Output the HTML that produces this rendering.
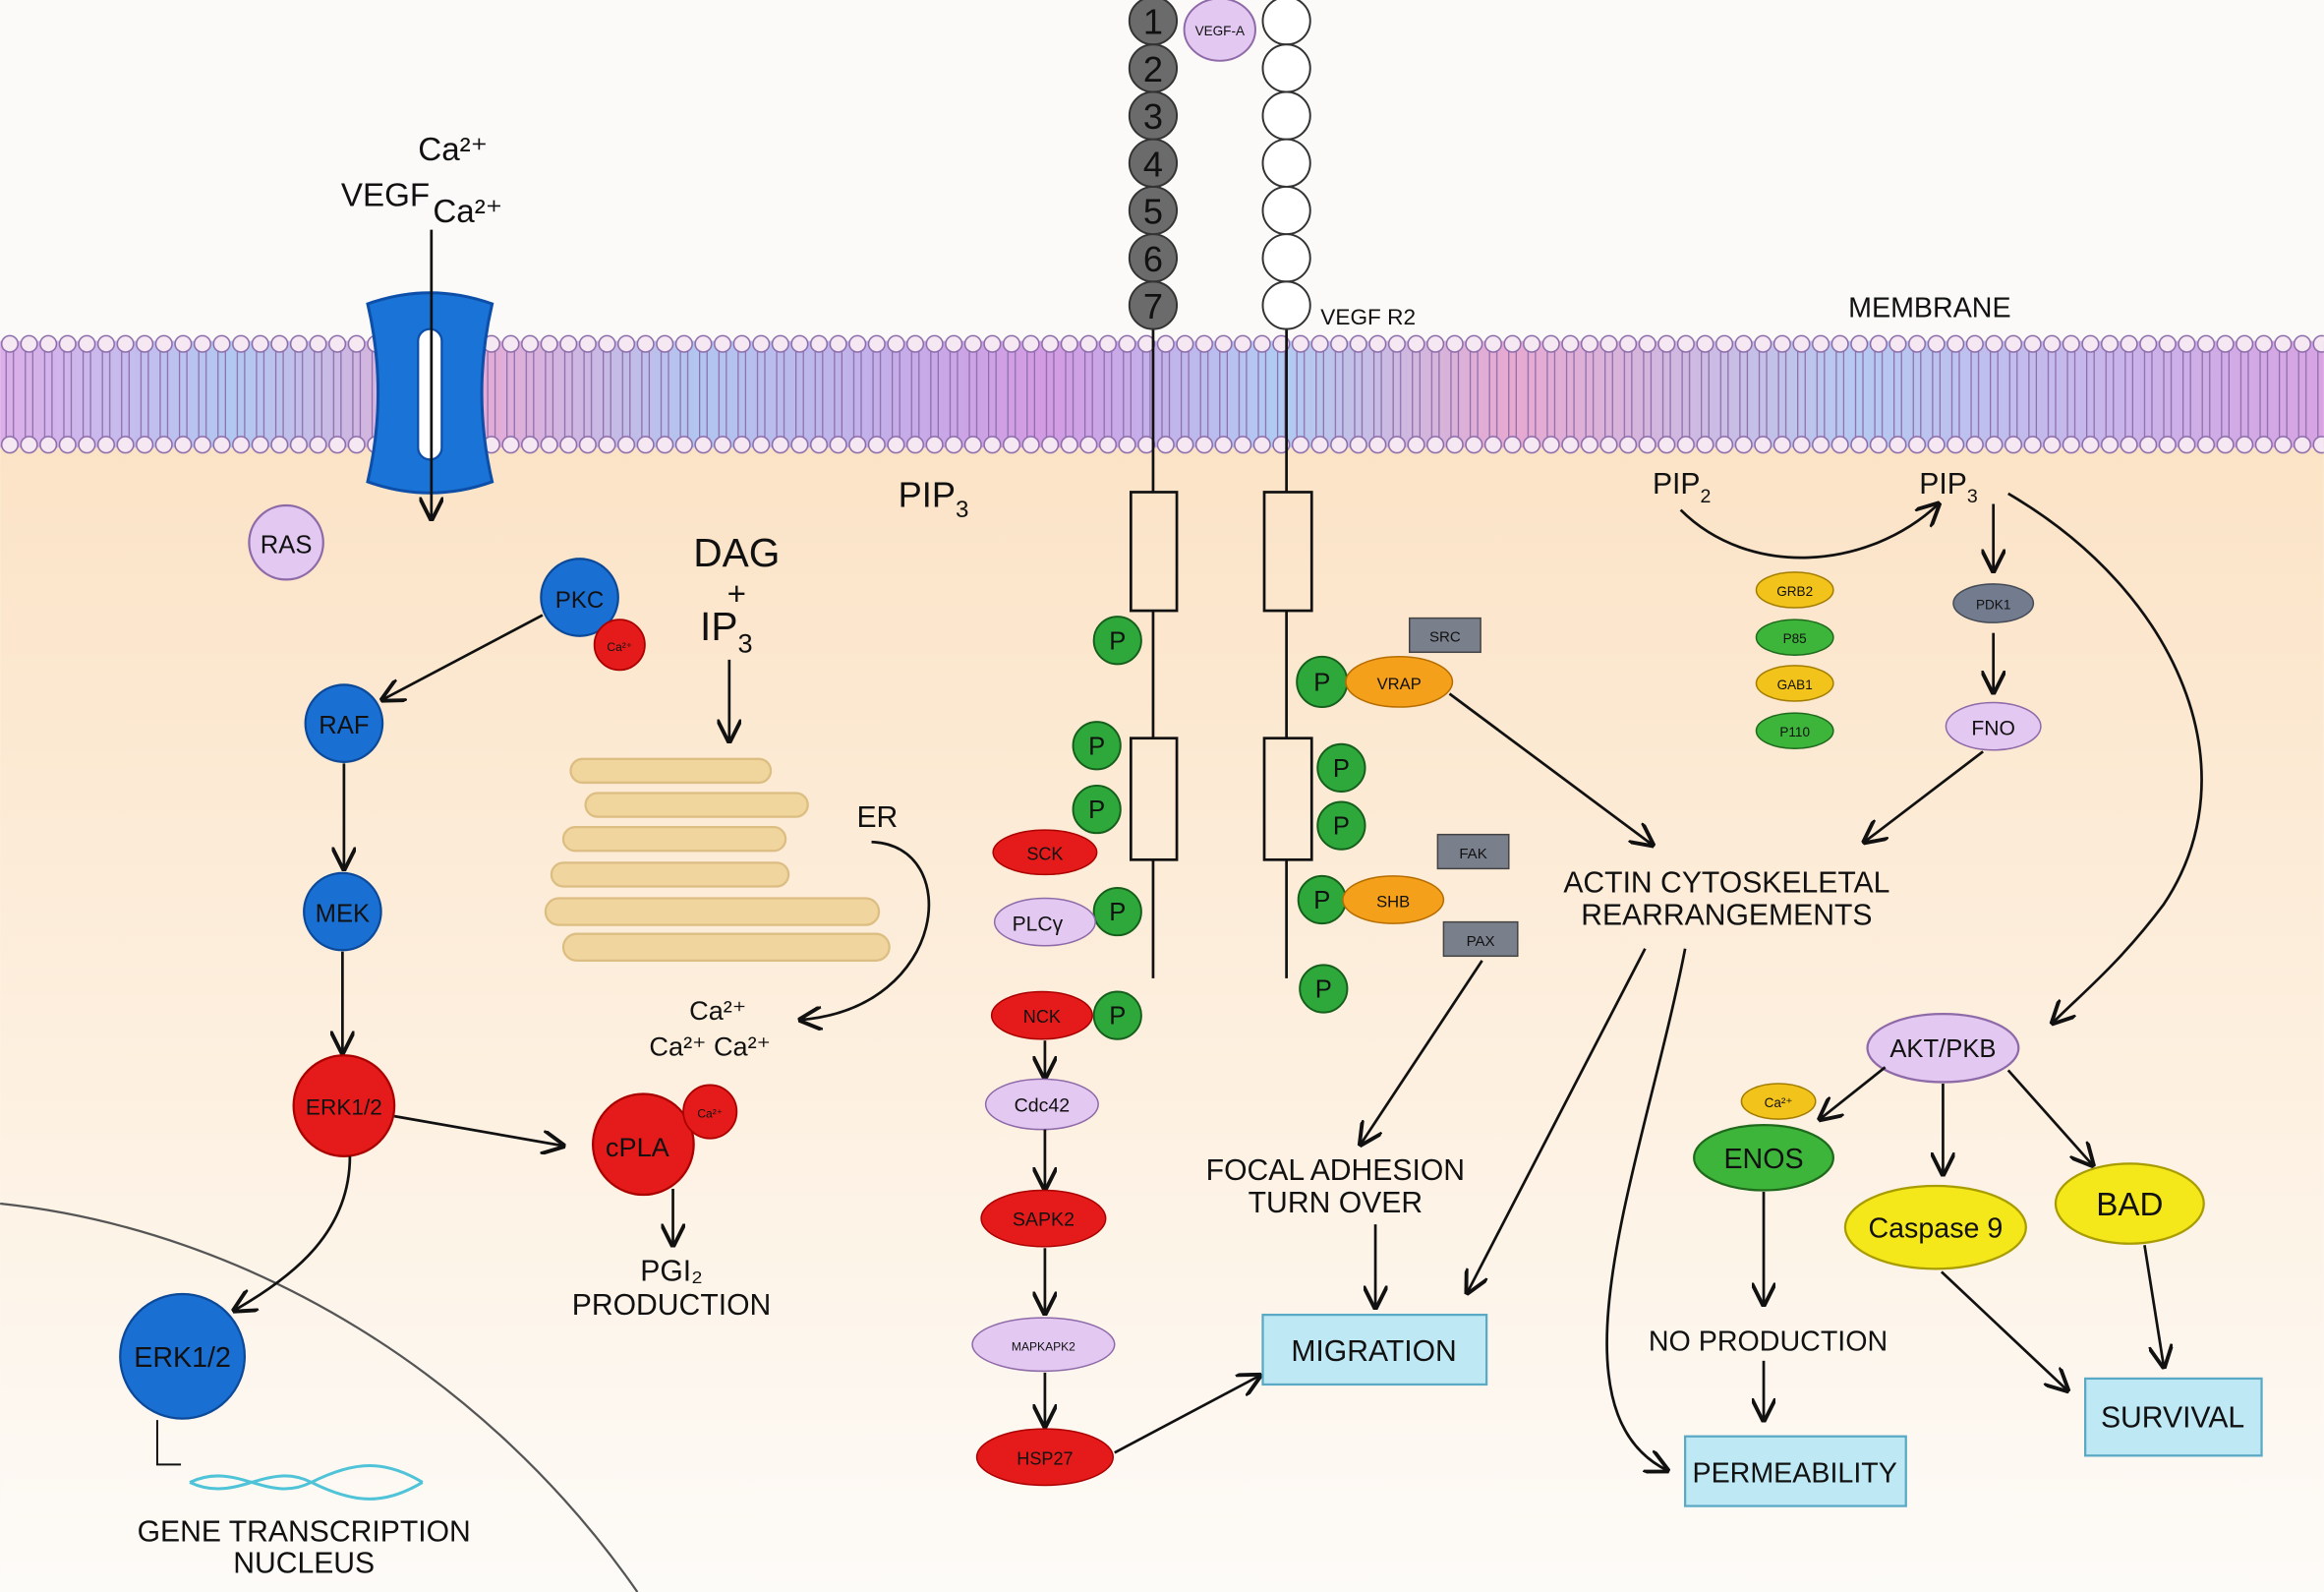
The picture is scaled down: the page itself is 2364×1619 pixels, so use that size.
<!DOCTYPE html>
<html><head><meta charset="utf-8"><style>
html,body{margin:0;padding:0;width:2364px;height:1619px;overflow:hidden;background:#fbfaf9}
svg{display:block}
text{font-family:"Liberation Sans",sans-serif;fill:#111}
</style></head><body>
<svg width="2364" height="1619" viewBox="0 0 1568 1074" xmlns="http://www.w3.org/2000/svg">
<defs>
<linearGradient id="bg" x1="0" y1="0" x2="0" y2="1">
<stop offset="0" stop-color="#fbe3c6"/><stop offset="0.55" stop-color="#fdf0e0"/><stop offset="1" stop-color="#fdfbf8"/>
</linearGradient>
<linearGradient id="mem" x1="0" y1="0" x2="1" y2="0">
<stop offset="0" stop-color="#d9a6e6"/><stop offset="0.1" stop-color="#a9c2f0"/><stop offset="0.2" stop-color="#e7a0d0"/><stop offset="0.3" stop-color="#a9c0ef"/><stop offset="0.45" stop-color="#cf90e0"/><stop offset="0.55" stop-color="#a8c6f2"/><stop offset="0.65" stop-color="#e6a0cc"/><stop offset="0.8" stop-color="#aec4f0"/><stop offset="1" stop-color="#d49ae0"/>
</linearGradient>
<pattern id="heads" x="0" y="226" width="13" height="80" patternUnits="userSpaceOnUse">
<line x1="4" y1="10" x2="4" y2="70" stroke="#8a6aa8" stroke-width="0.8"/>
<line x1="9" y1="10" x2="9" y2="70" stroke="#8a6aa8" stroke-width="0.8"/>
<circle cx="6.5" cy="6" r="5.5" fill="#f6e8f3" stroke="#8a6aa8" stroke-width="1"/>
<circle cx="6.5" cy="74" r="5.5" fill="#f6e8f3" stroke="#8a6aa8" stroke-width="1"/>
</pattern>
<marker id="a" viewBox="0 0 10 10" refX="9" refY="5" markerWidth="9" markerHeight="9" orient="auto-start-reverse">
<path d="M0,0 L10,5 L0,10" fill="none" stroke="#111" stroke-width="1.6"/>
</marker>
</defs>
<rect x="0" y="300" width="1568" height="774" fill="url(#bg)"/>
<!-- membrane -->
<rect x="0" y="230" width="1568" height="72" fill="url(#mem)" opacity="0.9"/>
<rect x="0" y="226" width="1568" height="80" fill="url(#heads)"/>
<!-- nucleus -->
<path d="M0,812 C170,830 330,930 430,1074" fill="none" stroke="#555" stroke-width="1.5"/>
<!-- channel -->
<path d="M248,205 Q290,190 332,205 Q318,265 332,325 Q290,340 248,325 Q262,265 248,205Z" fill="#1a73d6" stroke="#0d4fa8" stroke-width="2"/>
<rect x="282" y="222" width="16" height="88" rx="8" fill="#fff" stroke="#0d4fa8" stroke-width="1.5"/>
<line x1="291" y1="155" x2="291" y2="350" stroke="#111" stroke-width="1.8" marker-end="url(#a)"/>
<text x="282" y="108" font-size="22">Ca²⁺</text>
<text x="230" y="139" font-size="22">VEGF</text>
<text x="292" y="150" font-size="22">Ca²⁺</text>
<!-- left pathway -->
<circle cx="193" cy="366" r="25" fill="#e3c9f2" stroke="#8f6aa8" stroke-width="1.5"/><text x="193" y="373" font-size="17" text-anchor="middle">RAS</text>
<circle cx="391" cy="403" r="26" fill="#1a6fd2" stroke="#0c4a99" stroke-width="1.5"/><text x="391" y="410" font-size="16" text-anchor="middle">PKC</text>
<circle cx="418" cy="435" r="17" fill="#e51b1b" stroke="#a00" stroke-width="1.2"/><text x="418" y="439" font-size="8" text-anchor="middle">Ca²⁺</text>
<line x1="366" y1="415" x2="258" y2="472" stroke="#111" stroke-width="1.8" marker-end="url(#a)"/>
<circle cx="232" cy="488" r="26" fill="#1a6fd2" stroke="#0c4a99" stroke-width="1.5"/><text x="232" y="495" font-size="17" text-anchor="middle">RAF</text>
<line x1="232" y1="515" x2="232" y2="586" stroke="#111" stroke-width="1.8" marker-end="url(#a)"/>
<circle cx="231" cy="615" r="26" fill="#1a6fd2" stroke="#0c4a99" stroke-width="1.5"/><text x="231" y="622" font-size="17" text-anchor="middle">MEK</text>
<line x1="231" y1="642" x2="231" y2="710" stroke="#111" stroke-width="1.8" marker-end="url(#a)"/>
<circle cx="232" cy="746" r="34" fill="#e51b1b" stroke="#a00" stroke-width="1.5"/><text x="232" y="752" font-size="15" text-anchor="middle">ERK1/2</text>
<line x1="266" y1="753" x2="380" y2="773" stroke="#111" stroke-width="1.8" marker-end="url(#a)"/>
<path d="M236,780 C236,830 200,860 158,884" fill="none" stroke="#111" stroke-width="1.8" marker-end="url(#a)"/>
<circle cx="123" cy="915" r="42" fill="#1a6fd2" stroke="#0c4a99" stroke-width="1.5"/><text x="123" y="922" font-size="19" text-anchor="middle">ERK1/2</text>
<path d="M106,958 L106,988 L122,988" fill="none" stroke="#111" stroke-width="1.3"/>
<path d="M128,1000 C160,985 180,1015 210,1000 S260,985 285,1000" fill="none" stroke="#4fc3d8" stroke-width="2"/>
<path d="M128,1000 C160,1015 180,985 210,1000 S260,1015 285,1000" fill="none" stroke="#4fc3d8" stroke-width="2"/>
<text x="205" y="1040" font-size="20" text-anchor="middle">GENE TRANSCRIPTION</text>
<text x="205" y="1061" font-size="20" text-anchor="middle">NUCLEUS</text>
<!-- DAG / ER -->
<text x="497" y="382" font-size="27" text-anchor="middle">DAG</text>
<text x="497" y="408" font-size="22" text-anchor="middle">+</text>
<text x="490" y="432" font-size="27" text-anchor="middle">IP<tspan font-size="18" dy="8">3</tspan></text>
<line x1="492" y1="445" x2="492" y2="500" stroke="#111" stroke-width="1.8" marker-end="url(#a)"/>
<g fill="#efd398" stroke="#d9b97a" stroke-width="1.5" opacity="0.9">
<rect x="385" y="512" width="135" height="16" rx="8"/>
<rect x="395" y="535" width="150" height="16" rx="8"/>
<rect x="380" y="558" width="150" height="16" rx="8"/>
<rect x="372" y="582" width="160" height="16" rx="8"/>
<rect x="368" y="606" width="225" height="18" rx="9"/>
<rect x="380" y="630" width="220" height="18" rx="9"/>
</g>
<text x="578" y="558" font-size="20">ER</text>
<path d="M588,568 C650,570 640,680 540,688" fill="none" stroke="#111" stroke-width="1.8" marker-end="url(#a)"/>
<text x="465" y="688" font-size="18">Ca²⁺</text>
<text x="438" y="712" font-size="18">Ca²⁺ Ca²⁺</text>
<circle cx="434" cy="772" r="34" fill="#e51b1b" stroke="#a00" stroke-width="1.5"/><text x="430" y="780" font-size="18" text-anchor="middle">cPLA</text>
<circle cx="479" cy="750" r="18" fill="#e51b1b" stroke="#a00" stroke-width="1.2"/><text x="479" y="754" font-size="8" text-anchor="middle">Ca²⁺</text>
<line x1="454" y1="802" x2="454" y2="840" stroke="#111" stroke-width="1.8" marker-end="url(#a)"/>
<text x="453" y="864" font-size="20" text-anchor="middle">PGI₂</text>
<text x="453" y="887" font-size="20" text-anchor="middle">PRODUCTION</text>
<text x="606" y="342" font-size="24">PIP<tspan font-size="16" dy="7">3</tspan></text>
<!-- receptor -->
<g stroke="#111" stroke-width="1.8" fill="none">
<line x1="778" y1="206" x2="778" y2="332"/><line x1="778" y1="412" x2="778" y2="498"/><line x1="778" y1="580" x2="778" y2="660"/>
<line x1="868" y1="206" x2="868" y2="332"/><line x1="868" y1="412" x2="868" y2="498"/><line x1="868" y1="580" x2="868" y2="660"/>
<rect x="763" y="332" width="31" height="80"/><rect x="763" y="498" width="31" height="82"/>
<rect x="853" y="332" width="32" height="80"/><rect x="853" y="498" width="32" height="82"/>
</g>
<g fill="#6b6b6b" stroke="#333" stroke-width="1.3">
<circle cx="778" cy="14" r="16"/><circle cx="778" cy="46" r="16"/><circle cx="778" cy="78" r="16"/><circle cx="778" cy="110" r="16"/><circle cx="778" cy="142" r="16"/><circle cx="778" cy="174" r="16"/><circle cx="778" cy="206" r="16"/>
</g>
<g font-size="24" text-anchor="middle">
<text x="778" y="23">1</text><text x="778" y="55">2</text><text x="778" y="87">3</text><text x="778" y="119">4</text><text x="778" y="151">5</text><text x="778" y="183">6</text><text x="778" y="215">7</text>
</g>
<g fill="#fff" stroke="#333" stroke-width="1.3">
<circle cx="868" cy="14" r="16"/><circle cx="868" cy="46" r="16"/><circle cx="868" cy="78" r="16"/><circle cx="868" cy="110" r="16"/><circle cx="868" cy="142" r="16"/><circle cx="868" cy="174" r="16"/><circle cx="868" cy="206" r="16"/>
</g>
<ellipse cx="823" cy="20" rx="24" ry="21" fill="#e3c9f2" stroke="#8f6aa8" stroke-width="1.3"/><text x="823" y="24" font-size="9" text-anchor="middle">VEGF-A</text>
<text x="891" y="219" font-size="15">VEGF R2</text>
<text x="1302" y="214" font-size="19" text-anchor="middle">MEMBRANE</text>
<!-- P circles -->
<g fill="#2ea83a" stroke="#155e1c" stroke-width="1.3">
<circle cx="754" cy="432" r="16"/><circle cx="740" cy="503" r="16"/><circle cx="740" cy="546" r="16"/><circle cx="754" cy="615" r="16"/><circle cx="754" cy="685" r="16"/>
<circle cx="892" cy="460" r="17"/><circle cx="905" cy="518" r="16"/><circle cx="905" cy="557" r="16"/><circle cx="892" cy="607" r="16"/><circle cx="893" cy="667" r="16"/>
</g>
<g font-size="17" text-anchor="middle">
<text x="754" y="438">P</text><text x="740" y="509">P</text><text x="740" y="552">P</text><text x="754" y="621">P</text><text x="754" y="691">P</text>
<text x="892" y="466">P</text><text x="905" y="524">P</text><text x="905" y="563">P</text><text x="892" y="613">P</text><text x="893" y="673">P</text>
</g>
<!-- left column -->
<ellipse cx="705" cy="575" rx="35" ry="15" fill="#e51b1b" stroke="#a00"/><text x="705" y="580" font-size="12" text-anchor="middle">SCK</text>
<ellipse cx="705" cy="622" rx="34" ry="16" fill="#e3c9f2" stroke="#8f6aa8"/><text x="700" y="628" font-size="14" text-anchor="middle">PLCγ</text>
<ellipse cx="703" cy="685" rx="34" ry="16" fill="#e51b1b" stroke="#a00"/><text x="703" y="690" font-size="12" text-anchor="middle">NCK</text>
<line x1="705" y1="702" x2="705" y2="727" stroke="#111" stroke-width="1.8" marker-end="url(#a)"/>
<ellipse cx="703" cy="745" rx="38" ry="17" fill="#e3c9f2" stroke="#8f6aa8"/><text x="703" y="750" font-size="13" text-anchor="middle">Cdc42</text>
<line x1="705" y1="762" x2="705" y2="802" stroke="#111" stroke-width="1.8" marker-end="url(#a)"/>
<ellipse cx="704" cy="822" rx="42" ry="19" fill="#e51b1b" stroke="#a00"/><text x="704" y="827" font-size="13" text-anchor="middle">SAPK2</text>
<line x1="705" y1="842" x2="705" y2="886" stroke="#111" stroke-width="1.8" marker-end="url(#a)"/>
<ellipse cx="704" cy="907" rx="48" ry="18" fill="#e3c9f2" stroke="#8f6aa8"/><text x="704" y="911" font-size="8" text-anchor="middle">MAPKAPK2</text>
<line x1="705" y1="926" x2="705" y2="962" stroke="#111" stroke-width="1.8" marker-end="url(#a)"/>
<ellipse cx="705" cy="983" rx="46" ry="19" fill="#e51b1b" stroke="#a00"/><text x="705" y="988" font-size="12" text-anchor="middle">HSP27</text>
<line x1="752" y1="980" x2="850" y2="928" stroke="#111" stroke-width="1.8" marker-end="url(#a)"/>
<!-- right column receptor -->
<ellipse cx="944" cy="460" rx="36" ry="17" fill="#f5a01a" stroke="#b66d00"/><text x="944" y="465" font-size="11" text-anchor="middle">VRAP</text>
<ellipse cx="940" cy="607" rx="34" ry="16" fill="#f5a01a" stroke="#b66d00"/><text x="940" y="612" font-size="11" text-anchor="middle">SHB</text>
<rect x="951" y="417" width="48" height="23" fill="#7a7f8c" stroke="#444"/><text x="975" y="433" font-size="10" text-anchor="middle">SRC</text>
<rect x="970" y="563" width="48" height="23" fill="#7a7f8c" stroke="#444"/><text x="994" y="579" font-size="10" text-anchor="middle">FAK</text>
<rect x="974" y="622" width="50" height="23" fill="#7a7f8c" stroke="#444"/><text x="999" y="638" font-size="10" text-anchor="middle">PAX</text>
<line x1="978" y1="468" x2="1115" y2="570" stroke="#111" stroke-width="1.8" marker-end="url(#a)"/>
<line x1="1000" y1="648" x2="918" y2="772" stroke="#111" stroke-width="1.8" marker-end="url(#a)"/>
<text x="901" y="796" font-size="20" text-anchor="middle">FOCAL ADHESION</text>
<text x="901" y="818" font-size="20" text-anchor="middle">TURN OVER</text>
<line x1="928" y1="826" x2="928" y2="882" stroke="#111" stroke-width="1.8" marker-end="url(#a)"/>
<rect x="852" y="887" width="151" height="47" fill="#bfe8f5" stroke="#5aa9c5" stroke-width="1.5"/><text x="927" y="918" font-size="20" text-anchor="middle">MIGRATION</text>
<!-- actin -->
<text x="1165" y="602" font-size="20" text-anchor="middle">ACTIN CYTOSKELETAL</text>
<text x="1165" y="624" font-size="20" text-anchor="middle">REARRANGEMENTS</text>
<line x1="1110" y1="640" x2="990" y2="872" stroke="#111" stroke-width="1.8" marker-end="url(#a)"/>
<path d="M1137,640 C1110,780 1040,950 1125,992" fill="none" stroke="#111" stroke-width="1.8" marker-end="url(#a)"/>
<!-- PIP -->
<text x="1115" y="333" font-size="20">PIP<tspan font-size="13" dy="6">2</tspan></text>
<text x="1295" y="333" font-size="20">PIP<tspan font-size="13" dy="6">3</tspan></text>
<path d="M1134,344 C1180,390 1260,385 1308,340" fill="none" stroke="#111" stroke-width="1.8" marker-end="url(#a)"/>
<ellipse cx="1211" cy="398" rx="26" ry="12" fill="#f2c31a" stroke="#a47d00"/><text x="1211" y="402" font-size="9" text-anchor="middle">GRB2</text>
<ellipse cx="1211" cy="430" rx="26" ry="12" fill="#3db53a" stroke="#1f6a1c"/><text x="1211" y="434" font-size="9" text-anchor="middle">P85</text>
<ellipse cx="1211" cy="461" rx="26" ry="12" fill="#f2c31a" stroke="#a47d00"/><text x="1211" y="465" font-size="9" text-anchor="middle">GAB1</text>
<ellipse cx="1211" cy="493" rx="26" ry="12" fill="#3db53a" stroke="#1f6a1c"/><text x="1211" y="497" font-size="9" text-anchor="middle">P110</text>
<line x1="1345" y1="340" x2="1345" y2="385" stroke="#111" stroke-width="1.8" marker-end="url(#a)"/>
<ellipse cx="1345" cy="407" rx="27" ry="13" fill="#737c8e" stroke="#454b57"/><text x="1345" y="411" font-size="9" text-anchor="middle">PDK1</text>
<line x1="1345" y1="427" x2="1345" y2="467" stroke="#111" stroke-width="1.8" marker-end="url(#a)"/>
<ellipse cx="1345" cy="490" rx="32" ry="16" fill="#e3c9f2" stroke="#8f6aa8"/><text x="1345" y="496" font-size="14" text-anchor="middle">FNO</text>
<line x1="1338" y1="507" x2="1258" y2="568" stroke="#111" stroke-width="1.8" marker-end="url(#a)"/>
<path d="M1355,333 C1470,400 1520,520 1460,610 C1430,650 1405,670 1385,690" fill="none" stroke="#111" stroke-width="1.8" marker-end="url(#a)"/>
<!-- AKT -->
<ellipse cx="1311" cy="707" rx="51" ry="23" fill="#e3c9f2" stroke="#8f6aa8" stroke-width="1.5"/><text x="1311" y="713" font-size="17" text-anchor="middle">AKT/PKB</text>
<line x1="1272" y1="720" x2="1228" y2="755" stroke="#111" stroke-width="1.8" marker-end="url(#a)"/>
<line x1="1311" y1="731" x2="1311" y2="792" stroke="#111" stroke-width="1.8" marker-end="url(#a)"/>
<line x1="1355" y1="722" x2="1412" y2="786" stroke="#111" stroke-width="1.8" marker-end="url(#a)"/>
<ellipse cx="1200" cy="743" rx="25" ry="12" fill="#f2c31a" stroke="#a47d00"/><text x="1200" y="747" font-size="9" text-anchor="middle">Ca²⁺</text>
<ellipse cx="1190" cy="781" rx="47" ry="22" fill="#3db53a" stroke="#1f6a1c" stroke-width="1.5"/><text x="1190" y="788" font-size="19" text-anchor="middle">ENOS</text>
<line x1="1190" y1="804" x2="1190" y2="880" stroke="#111" stroke-width="1.8" marker-end="url(#a)"/>
<text x="1193" y="911" font-size="19" text-anchor="middle">NO PRODUCTION</text>
<line x1="1190" y1="918" x2="1190" y2="958" stroke="#111" stroke-width="1.8" marker-end="url(#a)"/>
<rect x="1137" y="969" width="149" height="47" fill="#bfe8f5" stroke="#5aa9c5" stroke-width="1.5"/><text x="1211" y="1000" font-size="19" text-anchor="middle">PERMEABILITY</text>
<ellipse cx="1306" cy="828" rx="61" ry="28" fill="#f5e81a" stroke="#a89c00" stroke-width="1.5"/><text x="1306" y="835" font-size="19" text-anchor="middle">Caspase 9</text>
<ellipse cx="1437" cy="812" rx="50" ry="27" fill="#f5e81a" stroke="#a89c00" stroke-width="1.5"/><text x="1437" y="820" font-size="22" text-anchor="middle">BAD</text>
<line x1="1310" y1="858" x2="1395" y2="938" stroke="#111" stroke-width="1.8" marker-end="url(#a)"/>
<line x1="1447" y1="840" x2="1460" y2="922" stroke="#111" stroke-width="1.8" marker-end="url(#a)"/>
<rect x="1407" y="930" width="119" height="52" fill="#bfe8f5" stroke="#5aa9c5" stroke-width="1.5"/><text x="1466" y="963" font-size="20" text-anchor="middle">SURVIVAL</text>
</svg>
</body></html>
